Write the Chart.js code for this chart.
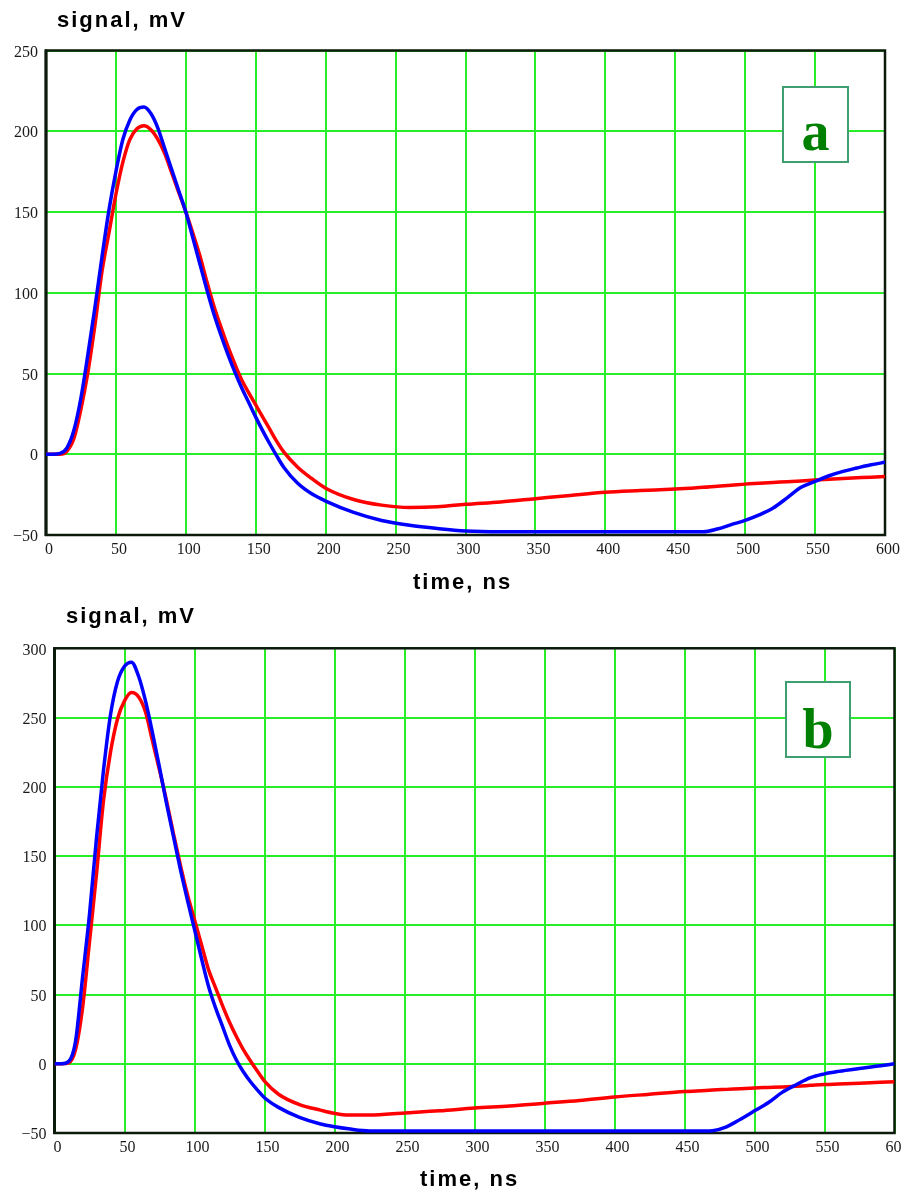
<!DOCTYPE html>
<html>
<head>
<meta charset="utf-8">
<script src="https://cdn.jsdelivr.net/npm/chart.js@4/dist/chart.umd.min.js"></script>
<style>
  html, body { margin: 0; padding: 0; background: #ffffff; overflow: hidden; width: 902px; height: 1194px; }
  #wrap { position: relative; width: 902px; height: 1194px; overflow: hidden; }
  canvas { position: absolute; left: 0; }
  #cA { top: 0; }
  #cB { top: 597px; }
</style>
</head>
<body>
<div id="wrap">
  <canvas id="cA" width="902" height="597"></canvas>
  <canvas id="cB" width="930" height="597"></canvas>
</div>
<script>
// ---------- Panel a ----------
const timeA = [0,5,10,15,20,25,30,35,40,45,50,55,60,65,70,75,80,85,90,95,100,105,110,115,120,125,130,135,140,145,150,155,160,165,170,180,190,200,220,240,260,280,300,325,350,375,400,425,450,460,470,480,490,500,510,520,530,540,550,560,570,580,590,600];
const blueA = [0,0,0.5,4,15,35,62,91,122,151,175,195,207,213.5,215,211,202,189,176,163,150,134,118,102,87,74,62,51,41,32,23,14.5,6.5,-1,-8,-18,-24.5,-29,-36,-41,-44,-46,-47.5,-48,-48,-48,-48,-48,-48,-48,-48,-46.3,-43.6,-41,-37.6,-33.3,-27,-20.5,-16.8,-13.3,-10.6,-8.5,-6.5,-5];
const redA = [0,0,0,2,10,28,51,80,113,137,161,181,195,201.5,203.4,201,195,186,174,162,150,137,123,107,92,79,67,56,46,38,30.5,23,15.5,8,1.5,-8,-15,-21,-28,-31.5,-33,-32.5,-31,-29.5,-27.5,-25.5,-23.6,-22.5,-21.5,-21,-20.5,-19.8,-19.2,-18.5,-18,-17.5,-17,-16.5,-16,-15.5,-15,-14.6,-14.2,-13.7];

// ---------- Panel b ----------
const timeB = [0,5,10,15,20,25,30,35,40,45,50,55,60,65,70,75,80,85,90,95,100,105,110,115,120,125,130,135,140,145,150,160,175,190,200,210,225,250,275,300,325,350,375,400,425,450,465,470,480,490,500,510,520,530,540,550,560,575,590,600];
const blueB = [0,0,1.5,16,62,108,163,212,252,276,287,290,280,262,239,214,188,164,140,118,97,76,56,40.5,27,13.5,2.5,-6,-13,-19,-24.5,-31.5,-38.7,-43.5,-45.5,-47,-48.5,-48.5,-48.5,-48.5,-48.5,-48.5,-48.5,-48.5,-48.5,-48.5,-48.5,-48.3,-45.5,-40,-34,-28,-20.5,-15,-10,-7.3,-5.5,-3.4,-1.5,0];
const redB = [0,0,0.5,10,40,88,137,190,225,249,262,268,265,254,233,212,190,166,143,122,104,86,68,55,42,30,19.5,10,2,-5.5,-12.5,-22,-29.5,-33.5,-35.8,-37,-37,-35.5,-34,-32,-30.5,-28.5,-26.5,-24,-22,-20,-19.3,-19,-18.5,-18,-17.5,-17.1,-16.7,-16.2,-15.6,-15,-14.6,-14,-13.4,-13];

// ---------- Ticks ----------
const xTickValues = [0,50,100,150,200,250,300,350,400,450,500,550,600];
const xTickLabels = ['0','50','100','150','200','250','300','350','400','450','500','550','600'];
const yTickValuesA = [-50,0,50,100,150,200,250];
const yTickLabelsA = ['\u221250','0','50','100','150','200','250'];
const yTickValuesB = [-50,0,50,100,150,200,250,300];
const yTickLabelsB = ['\u221250','0','50','100','150','200','250','300'];

const yTitle = 'signal, mV';
const xTitle = 'time, ns';

const GRID = 'rgb(40,238,40)';

const decor = {
  id: 'decor',
  beforeDatasetsDraw(chart, args, o) {
    const ctx = chart.ctx, a = chart.chartArea;
    ctx.save();
    ctx.strokeStyle = '#0b1a0b';
    ctx.lineWidth = 2.5;
    ctx.strokeRect(a.left, a.top, a.right - a.left, a.bottom - a.top);
    ctx.fillStyle = '#0b1a0b';
    ctx.fillRect(a.left - 1.5, a.top - 1, 3, a.bottom - a.top + 2);
    ctx.restore();
  },
  afterDraw(chart, args, o) {
    const ctx = chart.ctx;
    ctx.save();
    ctx.fillStyle = '#000';
    ctx.font = 'bold 22px "Liberation Sans", Arial, sans-serif';
    ctx.letterSpacing = '2px';
    ctx.textBaseline = 'alphabetic';
    ctx.textAlign = 'left';
    ctx.fillText(o.yTitle, o.yTitleX, o.yTitleY);
    ctx.fillText(o.xTitle, o.xTitleX, o.xTitleY);
    ctx.letterSpacing = '0px';
    // letter box
    const b = o.box;
    ctx.fillStyle = '#ffffff';
    ctx.fillRect(b.x, b.y, b.w, b.h);
    ctx.strokeStyle = '#3f9f70';
    ctx.lineWidth = 2;
    ctx.strokeRect(b.x, b.y, b.w, b.h);
    ctx.fillStyle = '#008000';
    ctx.font = 'bold 56px "Liberation Serif", "Times New Roman", serif';
    ctx.textAlign = 'center';
    ctx.fillText(o.letter, b.x + b.w / 2, o.letterY);
    ctx.restore();
  }
};

function makeChart(id, time, blue, red, yVals, yLabels, geo, deco) {
  const toPts = (vals) => time.map((t, i) => ({ x: t, y: vals[i] }));
  return new Chart(document.getElementById(id), {
    type: 'line',
    data: {
      datasets: [
        { data: toPts(blue), borderColor: '#0000ff', borderWidth: 3.5, pointRadius: 0, cubicInterpolationMode: 'monotone', fill: false },
        { data: toPts(red), borderColor: '#ff0000', borderWidth: 3.5, pointRadius: 0, cubicInterpolationMode: 'monotone', fill: false }
      ]
    },
    options: {
      responsive: false,
      animation: false,
      devicePixelRatio: 1,
      layout: { padding: { top: geo.top, right: geo.right, left: 0, bottom: 0 } },
      plugins: { legend: { display: false }, tooltip: { enabled: false }, decor: deco },
      scales: {
        x: {
          type: 'linear', min: 0, max: 600,
          afterBuildTicks: (s) => { s.ticks = xTickValues.map(v => ({ value: v })); },
          afterFit: (s) => { s.height = geo.xh; },
          grid: { color: GRID, lineWidth: 2, drawTicks: false },
          border: { display: false },
          ticks: {
            autoSkip: false, maxRotation: 0, padding: 5, labelOffset: 3,
            color: '#1a1a1a', font: { family: '"Liberation Serif", "Times New Roman", serif', size: 16 },
            callback: (v, i) => xTickLabels[i]
          }
        },
        y: {
          type: 'linear', min: yVals[0], max: yVals[yVals.length - 1],
          afterBuildTicks: (s) => { s.ticks = yVals.map(v => ({ value: v })); },
          afterFit: (s) => { s.width = geo.yw; },
          grid: { color: GRID, lineWidth: 2, drawTicks: false },
          border: { display: false },
          ticks: {
            autoSkip: false, padding: 8, labelOffset: 2,
            color: '#1a1a1a', font: { family: '"Liberation Serif", "Times New Roman", serif', size: 16 },
            callback: (v, i) => yLabels[i]
          }
        }
      }
    },
    plugins: [decor]
  });
}

makeChart('cA', timeA, blueA, redA, yTickValuesA, yTickLabelsA,
  { top: 50.5, right: 16, xh: 62, yw: 46 },
  { yTitle: yTitle, yTitleX: 57, yTitleY: 27, xTitle: xTitle, xTitleX: 413, xTitleY: 589,
    box: { x: 783, y: 87, w: 65, h: 75 }, letter: 'a', letterY: 150 });

makeChart('cB', timeB, blueB, redB, yTickValuesB, yTickLabelsB,
  { top: 51.3, right: 35.5, xh: 61, yw: 54.5 },
  { yTitle: yTitle, yTitleX: 66, yTitleY: 26, xTitle: xTitle, xTitleX: 420, xTitleY: 589,
    box: { x: 786, y: 85, w: 64, h: 75 }, letter: 'b', letterY: 151 });
</script>
</body>
</html>
